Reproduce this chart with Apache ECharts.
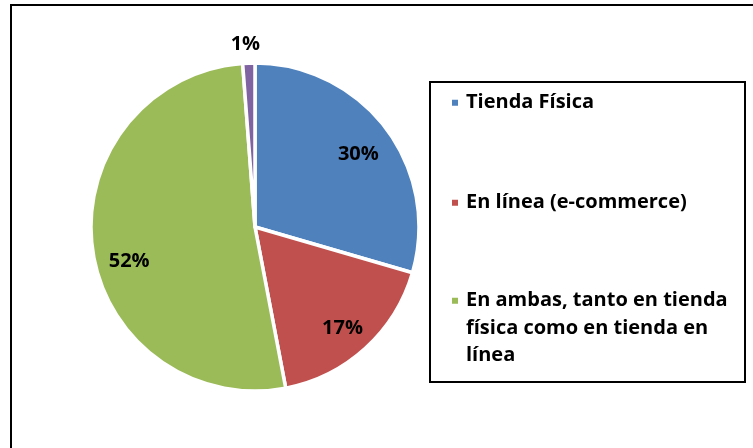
<!DOCTYPE html>
<html>
<head>
<meta charset="utf-8">
<script src="https://cdn.jsdelivr.net/npm/echarts@6/dist/echarts.min.js"></script>
<style>
html, body { margin: 0; padding: 0; background: #fff; }
#chart { width: 753px; height: 448px; }
</style>
</head>
<body>
<div id="chart"></div>
<script>
// datos
var categories = ['Tienda Física', 'En línea (e-commerce)', 'En ambas, tanto en tienda física como en tienda en línea', 'Otro'];
var values = [29.5, 17.5, 51.8, 1.2];
var colors = ['#4F81BD', '#C0504D', '#9BBB59', '#8064A2'];
var legendLabels = ['Tienda Física', 'En línea (e-commerce)', 'En ambas, tanto en tienda\nfísica como en tienda en\nlínea'];

function init() {
    var chart = echarts.init(document.getElementById('chart'));

    var pieData = categories.map(function (name, i) {
        return { name: name, value: values[i], itemStyle: { color: colors[i] } };
    });
    var labelData = categories.map(function (name, i) {
        var item = { name: name, value: values[i] };
        if (values[i] < 5) {
            item.label = { position: 'outside', distanceToLabelLine: -12 };
        }
        return item;
    });
    // ajuste fino de las etiquetas (Excel no las pone justo en el medio)
    var labelNudge = [[-3, 7], [-2, 3], [6, 17], [0, 0]];

    var font = 'Open Sans';
    function legendItem(i, top) {
        // el icono queda centrado en el texto, por eso las lineas vacias delante
        var lines = legendLabels[i].split('\n').length;
        var pre = new Array(lines).join('\n');
        return {
            data: [categories[i]],
            left: 450, top: top, padding: 0,
            orient: 'vertical', icon: 'rect', itemWidth: 8, itemHeight: 8,
            selectedMode: false,
            formatter: function () { return pre + legendLabels[i]; },
            textStyle: { fontFamily: font, fontWeight: 'bold', fontSize: 20, lineHeight: 27.5, color: '#000', padding: [0, 0, 0, 2] }
        };
    }

    var option = {
        backgroundColor: '#fff',
        animation: false,
        graphic: [
            { type: 'rect', silent: true, z: -1, shape: { x: 11, y: 5, width: 800, height: 500 },
              style: { fill: 'none', stroke: '#000', lineWidth: 2 } },
            { type: 'rect', silent: true, z: -1, shape: { x: 430, y: 82, width: 315, height: 300 },
              style: { fill: 'none', stroke: '#000', lineWidth: 2 } }
        ],
        legend: [
            legendItem(0, 89),
            legendItem(1, 189),
            legendItem(2, 232)
        ],
        series: [
            {
                type: 'pie', center: [255, 227], radius: 164,
                startAngle: 90, clockwise: true, silent: true,
                itemStyle: { borderColor: '#fff', borderWidth: 3.5 },
                label: { show: false }, labelLine: { show: false },
                data: pieData
            },
            {
                // capa transparente solo para las etiquetas
                type: 'pie', center: [255, 227], radius: [96, 164],
                startAngle: 90, clockwise: true, silent: true,
                percentPrecision: 0,
                itemStyle: { color: 'transparent', borderWidth: 0 },
                label: { show: true, position: 'inside', formatter: '{d}%', fontFamily: font, fontWeight: 'bold', fontSize: 20, color: '#000' },
                labelLine: { show: false, length: 19, length2: 0 },
                labelLayout: function (params) {
                    var n = labelNudge[params.dataIndex];
                    return { dx: n[0], dy: n[1] };
                },
                data: labelData
            }
        ]
    };
    chart.setOption(option);
}

init();
</script>
</body>
</html>
